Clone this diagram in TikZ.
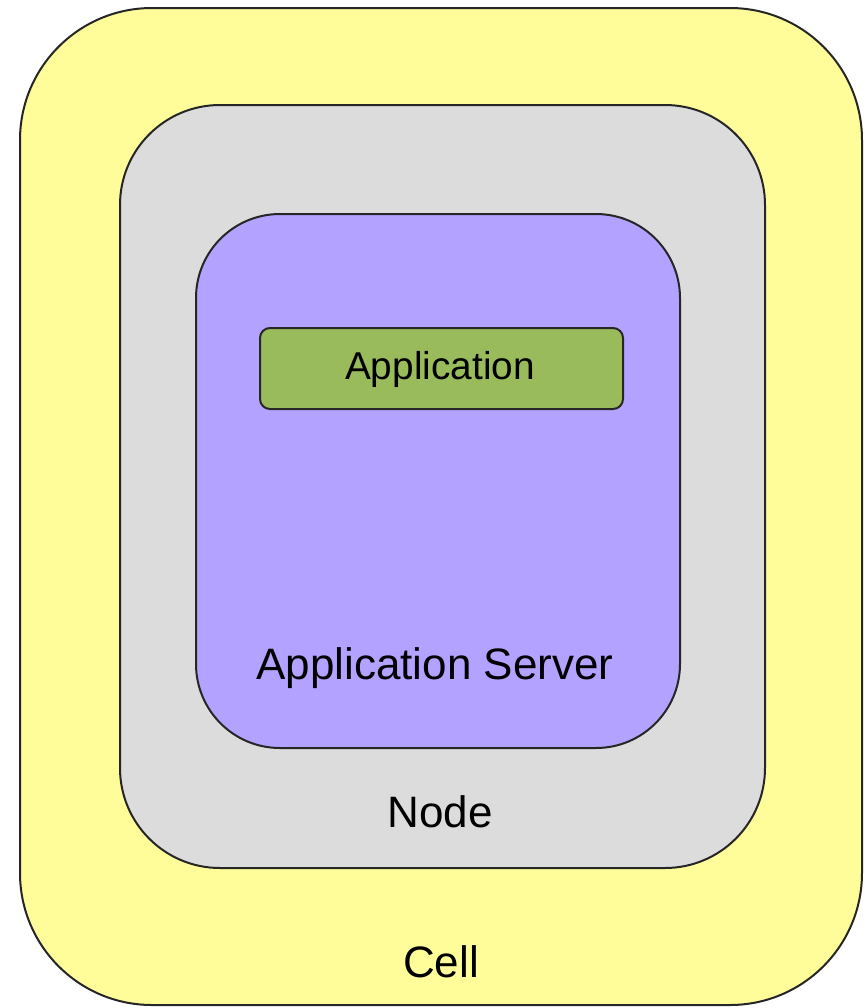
\documentclass[tikz,border=0pt]{standalone}
\usepackage{fontspec}
\setmainfont{Liberation Sans}
\definecolor{cellyellow}{HTML}{FFFC9A}
\definecolor{nodegray}{HTML}{DCDCDC}
\definecolor{serverpurple}{HTML}{B3A2FF}
\definecolor{appgreen}{HTML}{9ABB5C}
\begin{document}
\begin{tikzpicture}[x=0.5pt,y=-0.5pt,
    box/.style={draw=black!85,line width=1pt},
    label/.style={inner sep=0pt,font=\fontsize{22}{26}\selectfont}]
  \useasboundingbox (0,0) rectangle (867,1008);

  % Cell (yellow)
  \draw[box,fill=cellyellow,rounded corners=66pt] (20,8) rectangle (862,1005);
  \node[label] (cell) at (441,962) {Cell};

  % Node (gray)
  \draw[box,fill=nodegray,rounded corners=50pt] (120,105) rectangle (765,868);
  \node[label] (node) at (440,812) {Node};

  % Application server (purple)
  \draw[box,fill=serverpurple,rounded corners=42pt] (196,214) rectangle (680,748);
  \node[label] (server) at (435,668) {Application Server};

  % Application (green)
  \draw[box,fill=appgreen,rounded corners=5pt] (260,328) rectangle (623,409);
  \node[label,font=\fontsize{19.4}{23}\selectfont] (app) at (440,369) {Application};
\end{tikzpicture}
\end{document}
